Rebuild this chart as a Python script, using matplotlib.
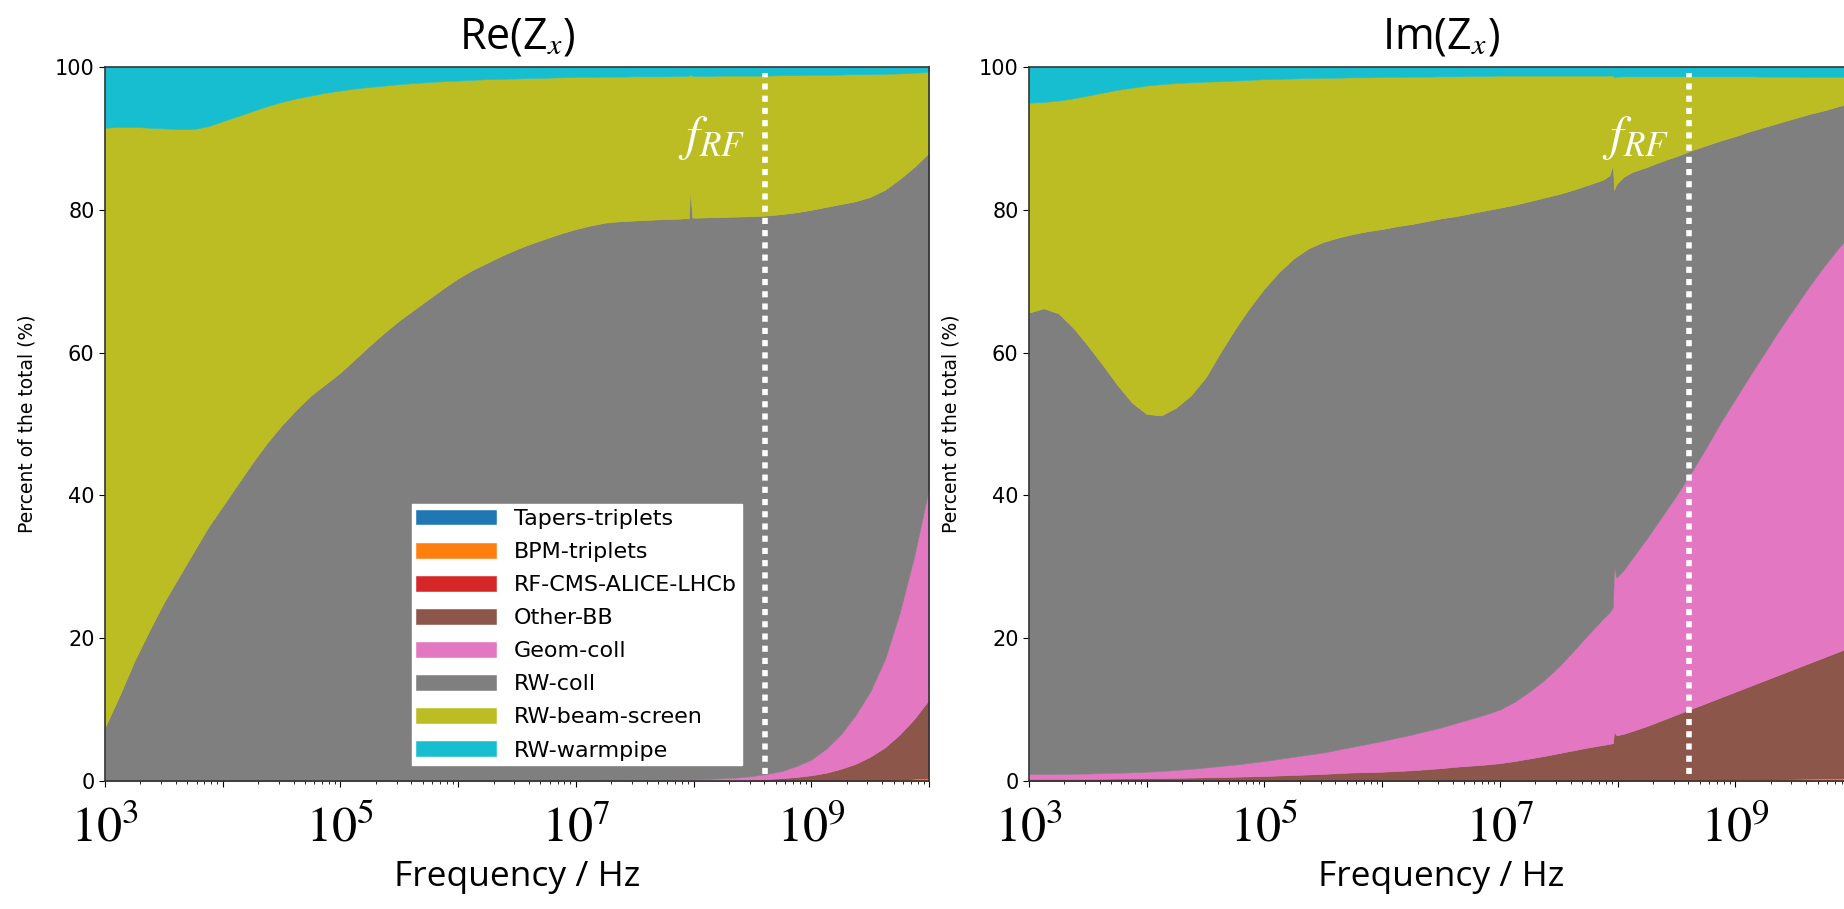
import numpy as np
import matplotlib
matplotlib.use('Agg')
import matplotlib.pyplot as plt
from matplotlib.ticker import FixedLocator, LogLocator, NullFormatter

plt.rcParams['mathtext.fontset'] = 'stix'

# log10 of the sampled frequencies (Hz)
log_f = [3.0, 3.125, 3.25, 3.375, 3.5, 3.625, 3.75, 3.875,
         4.0, 4.125, 4.25, 4.375, 4.5, 4.625, 4.75, 4.875,
         5.0, 5.125, 5.25, 5.375, 5.5, 5.625, 5.75, 5.875,
         6.0, 6.125, 6.25, 6.375, 6.5, 6.625, 6.75, 6.875,
         7.0, 7.125, 7.25, 7.375, 7.5, 7.625, 7.75, 7.875,
         7.93, 7.96, 7.97, 7.99, 8.05,
         8.125, 8.25, 8.375, 8.5, 8.625, 8.75, 8.875, 9.0,
         9.125, 9.25, 9.375, 9.5, 9.625, 9.75, 9.875, 10.0]
freq = 10.0 ** np.array(log_f)
f_rf = 400.8e6

names = ['Tapers-triplets', 'BPM-triplets', 'RF-CMS-ALICE-LHCb', 'Other-BB',
         'Geom-coll', 'RW-coll', 'RW-beam-screen', 'RW-warmpipe']
colors = ['tab:blue', 'tab:orange', 'tab:red', 'tab:brown',
          'tab:pink', 'tab:gray', 'tab:olive', 'tab:cyan']

# Re(Zx): cumulative share (%) up to the top of each band, bottom to top
tapers_re = [0.0] * 61
bpm_re = [0.0] * 53 + [0.03, 0.05, 0.07, 0.1, 0.17, 0.25, 0.37, 0.5]
rf_re = bpm_re
other_re = [0.0] * 33 + [0.005, 0.01, 0.015, 0.02, 0.025, 0.03, 0.04,
                         0.04, 0.05, 0.05, 0.05, 0.06,
                         0.07, 0.1, 0.14, 0.2, 0.28, 0.4, 0.56, 0.8,
                         1.15, 1.7, 2.4, 3.4, 4.7, 6.5, 8.7, 11.4]
geom_re = [0.0] * 33 + [0.02, 0.05, 0.07, 0.1, 0.12, 0.15, 0.18,
                        0.2, 0.21, 0.21, 0.22, 0.24,
                        0.3, 0.4, 0.5, 0.7, 1.0, 1.4, 2.1, 3.0,
                        4.5, 6.5, 9.2, 12.5, 17.0, 23.5, 31.5, 41.0]
rwcoll_re = [7.5, 12.0, 16.8, 21.0, 25.0, 28.5, 32.0, 35.5,
             38.5, 41.5, 44.5, 47.3, 49.8, 52.0, 54.0, 55.6,
             57.2, 59.1, 61.0, 62.8, 64.5, 66.0, 67.5, 69.0,
             70.4, 71.6, 72.6, 73.6, 74.5, 75.3, 76.0, 76.7,
             77.3, 77.8, 78.2, 78.4, 78.5, 78.6, 78.7, 78.75,
             78.8, 78.8, 82.8, 78.9, 78.9,
             78.95, 79.0, 79.05, 79.1, 79.2, 79.4, 79.65, 80.0,
             80.4, 80.8, 81.2, 81.8, 82.8, 84.3, 86.0, 88.0]
rwbs_re = [91.5, 91.6, 91.6, 91.5, 91.4, 91.3, 91.3, 91.7,
           92.4, 93.1, 93.8, 94.5, 95.1, 95.6, 96.0, 96.4,
           96.7, 97.0, 97.2, 97.4, 97.6, 97.75, 97.9, 98.0,
           98.1, 98.2, 98.3, 98.35, 98.4, 98.45, 98.5, 98.55,
           98.6, 98.6, 98.65, 98.65, 98.7, 98.7, 98.7, 98.75,
           98.75, 98.75, 99.0, 98.75, 98.75,
           98.75, 98.8, 98.8, 98.8, 98.8, 98.85, 98.85, 98.9,
           98.9, 98.95, 99.0, 99.0, 99.05, 99.1, 99.2, 99.3]

# Im(Zx): cumulative share (%) up to the top of each band, bottom to top
tapers_im = [0.0] * 61
bpm_im = [0.0] * 44 + [0.1, 0.12, 0.15, 0.18, 0.2, 0.22, 0.25, 0.28, 0.3,
                       0.3, 0.3, 0.33, 0.35, 0.38, 0.4, 0.4, 0.4]
rf_im = bpm_im
other_im = [0.3, 0.3, 0.3, 0.3, 0.3, 0.32, 0.35, 0.37,
            0.4, 0.42, 0.45, 0.48, 0.52, 0.56, 0.6, 0.65,
            0.7, 0.78, 0.85, 0.92, 1.0, 1.1, 1.2, 1.25,
            1.3, 1.4, 1.5, 1.65, 1.8, 2.0, 2.15, 2.3,
            2.5, 2.8, 3.15, 3.5, 3.9, 4.3, 4.7, 5.05,
            5.2, 5.3, 6.9, 6.4, 6.6,
            7.0, 7.7, 8.5, 9.3, 10.1, 10.9, 11.7, 12.5,
            13.3, 14.1, 14.9, 15.7, 16.5, 17.3, 18.1, 18.9]
geom_im = [1.0, 1.0, 1.0, 1.02, 1.05, 1.1, 1.15, 1.22,
           1.3, 1.4, 1.55, 1.7, 1.9, 2.1, 2.3, 2.55,
           2.8, 3.1, 3.4, 3.7, 4.0, 4.4, 4.8, 5.2,
           5.6, 6.05, 6.5, 7.0, 7.5, 8.1, 8.7, 9.3,
           10.0, 11.1, 12.5, 14.1, 16.0, 18.2, 20.5, 22.7,
           23.6, 24.3, 30.0, 28.5, 29.5,
           31.2, 34.0, 37.0, 40.0, 43.2, 46.6, 50.2, 53.5,
           56.8, 60.0, 63.2, 66.2, 69.2, 72.0, 74.6, 77.0]
rwcoll_im = [65.6, 66.2, 65.5, 63.5, 61.0, 58.3, 55.5, 53.0,
             51.4, 51.2, 52.3, 54.0, 56.5, 60.0, 63.3, 66.3,
             69.0, 71.3, 73.2, 74.6, 75.5, 76.1, 76.6, 77.0,
             77.3, 77.7, 78.0, 78.4, 78.8, 79.1, 79.5, 79.9,
             80.3, 80.7, 81.2, 81.7, 82.2, 82.8, 83.5, 84.2,
             84.8, 86.3, 82.8, 83.6, 84.6,
             85.3, 86.0, 86.8, 87.5, 88.3, 89.0, 89.7, 90.3,
             91.0, 91.6, 92.2, 92.8, 93.4, 93.9, 94.5, 95.0]
rwbs_im = [95.0, 95.1, 95.3, 95.6, 96.0, 96.4, 96.8, 97.1,
           97.4, 97.6, 97.75, 97.85, 97.95, 98.0, 98.1, 98.2,
           98.3, 98.35, 98.4, 98.45, 98.5, 98.5, 98.55, 98.55,
           98.6, 98.6, 98.65, 98.65, 98.7, 98.7, 98.75, 98.75,
           98.8, 98.8, 98.8, 98.8, 98.8, 98.8, 98.8, 98.8,
           98.8, 98.8, 98.6, 98.65, 98.7,
           98.7, 98.7, 98.7, 98.7, 98.7, 98.7, 98.7, 98.7,
           98.7, 98.65, 98.65, 98.65, 98.6, 98.6, 98.6, 98.6]

levels_re = [tapers_re, bpm_re, rf_re, other_re, geom_re, rwcoll_re, rwbs_re]
levels_im = [tapers_im, bpm_im, rf_im, other_im, geom_im, rwcoll_im, rwbs_im]


def draw_panel(ax, levels, title):
    edges = np.vstack([np.zeros(len(freq))] + [np.asarray(l) for l in levels]
                      + [np.full(len(freq), 100.0)])
    shares = np.diff(edges, axis=0)
    ax.stackplot(freq, shares, labels=names, colors=colors, edgecolor='face', linewidth=0.4)

    ax.set_xscale('log')
    ax.set_xlim(1e3, 1e10)
    ax.set_ylim(0, 100)
    decades = list(range(3, 11))
    ax.xaxis.set_major_locator(FixedLocator([10.0 ** k for k in decades]))
    ax.set_xticklabels([r'$10^{%d}$' % k if k % 2 else '' for k in decades])
    ax.xaxis.set_minor_locator(LogLocator(base=10, subs=np.arange(2, 10), numticks=20))
    ax.xaxis.set_minor_formatter(NullFormatter())
    ax.set_yticks([0, 20, 40, 60, 80, 100])
    ax.tick_params(axis='x', which='major', labelsize=36, pad=12, length=4.5)
    ax.tick_params(axis='x', which='minor', length=2.5)
    ax.tick_params(axis='y', labelsize=15, length=4)
    for sp in ax.spines.values():
        sp.set_linewidth(1.2)
        sp.set_color('#333333')

    ax.set_title(title, fontsize=31, fontfamily='Open Sans', pad=13)
    ax.set_xlabel('Frequency / Hz', fontsize=25.5, fontfamily='Open Sans', labelpad=6)
    ax.set_ylabel('Percent of the total (%)', fontsize=13.5)
    ax.yaxis.set_label_coords(-0.0825, 0.5)

    # RF frequency marker
    ax.plot([f_rf, f_rf], [1.0, 99.1], color='white', lw=4, linestyle=(0, (1.1, 1.1)))
    ax.annotate(r'$f_{RF}$', xy=(f_rf, 90.0), xytext=(-14, 0), textcoords='offset points',
                ha='right', va='center', color='white', fontsize=36)


fig = plt.figure(figsize=(18.44, 9.09), dpi=100)
ax_re = fig.add_axes([0.0569, 0.1408, 0.4469, 0.7855])
ax_im = fig.add_axes([0.5580, 0.1408, 0.4469, 0.7855])

draw_panel(ax_re, levels_re, r'Re(Z${}_{x}$)')
draw_panel(ax_im, levels_im, r'Im(Z${}_{x}$)')

ax_re.legend(loc='lower left', bbox_to_anchor=(0.3726, 0.0224), borderaxespad=0,
             fontsize=16, handlelength=3.6, handleheight=0.65, handletextpad=0.8,
             labelspacing=0.59, borderpad=0.2, fancybox=False, framealpha=1,
             edgecolor='white')

fig.savefig('out.png', dpi=100)
